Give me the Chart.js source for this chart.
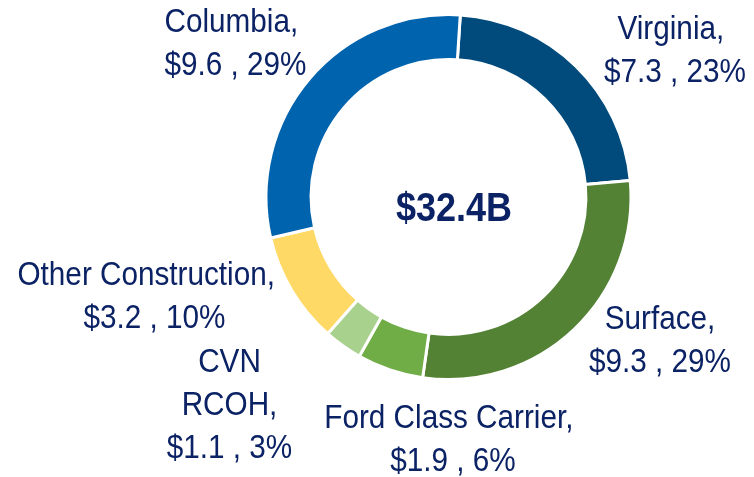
<!DOCTYPE html>
<html>
<head>
<meta charset="utf-8">
<script src="https://cdn.jsdelivr.net/npm/chart.js@4.4.1/dist/chart.umd.min.js"></script>
<style>
  html, body { margin: 0; padding: 0; background: #ffffff; }
  #wrap { width: 754px; height: 477px; position: relative; }
</style>
</head>
<body>
<div id="wrap"><canvas id="c" width="754" height="477"></canvas></div>
<script>
// ---- data ----
const categories = ["Virginia", "Surface", "Ford Class Carrier", "CVN RCOH", "Other Construction", "Columbia"];
const valuesB = [7.3, 9.3, 1.9, 1.1, 3.2, 9.6];
const percents = [23, 29, 6, 3, 10, 29];
const totalLabel = "$32.4B";
const labelLines = [
  ["Virginia, ", "$7.3 , 23%"],
  ["Surface,", "$9.3 , 29%"],
  ["Ford Class Carrier, ", "$1.9 , 6%"],
  ["CVN", "RCOH,", "$1.1 , 3%"],
  ["Other Construction,  ", "$3.2 , 10%"],
  ["Columbia, ", "$9.6 , 29%"]
];

// ---- styling / layout ----
const colors = ["#004A7C", "#548235", "#70AD47", "#A9D18E", "#FFD966", "#0063AE"];
const textColor = "#0B2265";
// label block offsets from the doughnut centre: [dx of line centre, dy of first baseline]
const labelOffsets = [
  [226.5, -158], [211.5, 132], [4.5, 231], [-219, 175], [-294, 88], [-213, -165]
];
const lineHeight = 43;
const squeeze = 0.9;

function drawText(ctx, t, x, y) {
  ctx.save();
  ctx.translate(x, y);
  ctx.scale(squeeze, 1);
  ctx.fillText(t, 0, 0);
  ctx.restore();
}

const labelPlugin = {
  id: 'labels',
  afterDraw(chart) {
    const ctx = chart.ctx;
    const meta = chart.getDatasetMeta(0);
    const cx = meta.data[0].x, cy = meta.data[0].y;
    ctx.save();
    ctx.fillStyle = textColor;
    ctx.textAlign = 'center';
    ctx.textBaseline = 'alphabetic';
    ctx.font = '33px "Liberation Sans", Arial, sans-serif';
    labelLines.forEach((lines, i) => {
      const [dx, dy] = labelOffsets[i];
      lines.forEach((t, j) => {
        drawText(ctx, t, cx + dx, cy + dy + j * lineHeight);
      });
    });
    ctx.font = 'bold 40px "Liberation Sans", Arial, sans-serif';
    drawText(ctx, totalLabel, cx + 5.5, cy + 24);
    ctx.restore();
  }
};

new Chart(document.getElementById('c'), {
  type: 'doughnut',
  data: {
    labels: categories,
    datasets: [{
      data: valuesB,
      backgroundColor: colors,
      borderColor: '#ffffff',
      borderWidth: 3,
      hoverOffset: 0
    }]
  },
  options: {
    responsive: false,
    animation: false,
    rotation: 3.7,
    cutout: '75.3%',
    layout: { padding: { left: 143, right: 0, top: 13, bottom: 96 } },
    plugins: { legend: { display: false }, tooltip: { enabled: false } }
  },
  plugins: [labelPlugin]
});
</script>
</body>
</html>
